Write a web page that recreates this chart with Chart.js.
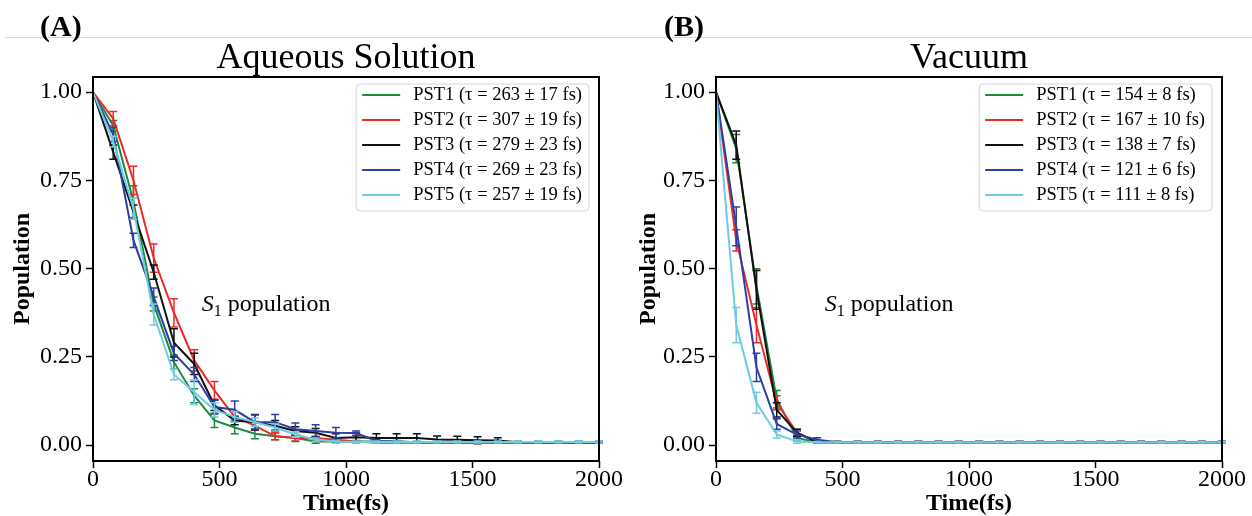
<!DOCTYPE html>
<html>
<head>
<meta charset="utf-8">
<title>S1 population decay</title>
<script src="https://cdn.jsdelivr.net/npm/chart.js@4.4.1/dist/chart.umd.min.js"></script>
<style>
    html, body { margin: 0; padding: 0; background: #fff; }
    #page {
        position: relative;
        width: 1252px;
        height: 516px;
        overflow: hidden;
        font-family: "Liberation Serif", "Times New Roman", serif;
    }
    .rule { position: absolute; left: 5px; right: 0; top: 37px; height: 1px; background: #d6d6d6; }
    .panel-tag { position: absolute; top: 11px; font-size: 30px; line-height: 30px; font-weight: bold; color: #000; }
    .panel { position: absolute; top: 0; width: 626px; height: 516px; }
</style>
</head>
<body>
<div id="page">
    <div class="rule"></div>
    <div class="panel" style="left:0"><canvas id="chart-aqueous" width="626" height="516"></canvas></div>
    <div class="panel" style="left:626px"><canvas id="chart-vacuum" width="626" height="516"></canvas></div>
    <div class="panel-tag" style="left:40px">(A)</div>
    <div class="panel-tag" style="left:664px">(B)</div>
</div>
<script>
// Time axis (fs), one point every 80 fs
const TIME_FS = [0, 80, 160, 240, 320, 400, 480, 560, 640, 720, 800, 880, 960,
    1040, 1120, 1200, 1280, 1360, 1440, 1520, 1600, 1680, 1760, 1840, 1920, 2000];

const X_TICKS = [0, 500, 1000, 1500, 2000];
const Y_TICKS = [0, 0.25, 0.5, 0.75, 1.0];

const SERIES_COLORS = ['#1e8a3c', '#ec2a2a', '#111111', '#2c3fa2', '#6ecbe2'];

// (A) aqueous solution
const AQ_LABELS = [
    'PST1 (\u03c4 = 263 \u00b1 17 fs)',
    'PST2 (\u03c4 = 307 \u00b1 19 fs)',
    'PST3 (\u03c4 = 279 \u00b1 23 fs)',
    'PST4 (\u03c4 = 269 \u00b1 23 fs)',
    'PST5 (\u03c4 = 257 \u00b1 19 fs)'
];
const AQ_PST1 = [1.00, 0.905, 0.69, 0.40, 0.235, 0.14, 0.07, 0.05, 0.032, 0.025, 0.02, 0.01, 0.01,
    0.01, 0.01, 0.01, 0.008, 0.008, 0.008, 0.008, 0.008, 0.008, 0.008, 0.008, 0.008, 0.008];
const AQ_PST2 = [1.00, 0.925, 0.75, 0.53, 0.375, 0.24, 0.155, 0.08, 0.055, 0.025, 0.02, 0.02, 0.015,
    0.01, 0.007, 0.007, 0.007, 0.007, 0.007, 0.007, 0.007, 0.007, 0.007, 0.007, 0.007, 0.007];
const AQ_PST3 = [1.00, 0.83, 0.66, 0.49, 0.29, 0.23, 0.113, 0.07, 0.065, 0.055, 0.04, 0.035, 0.02,
    0.022, 0.02, 0.02, 0.02, 0.016, 0.015, 0.014, 0.013, 0.008, 0.008, 0.008, 0.008, 0.008];
const AQ_PST4 = [1.00, 0.88, 0.58, 0.42, 0.26, 0.20, 0.108, 0.10, 0.065, 0.065, 0.045, 0.04, 0.035,
    0.034, 0.012, 0.01, 0.008, 0.008, 0.008, 0.008, 0.008, 0.008, 0.008, 0.008, 0.008, 0.008];
const AQ_PST5 = [1.00, 0.86, 0.67, 0.37, 0.20, 0.15, 0.10, 0.08, 0.065, 0.05, 0.03, 0.015, 0.01,
    0.009, 0.009, 0.009, 0.009, 0.009, 0.009, 0.009, 0.009, 0.009, 0.009, 0.009, 0.009, 0.009];

// error bar half-widths
const AQ_ERR1 = [0, 0.015, 0.045, 0.02, 0.02, 0.02, 0.02, 0.018, 0.014, 0.01, 0.01, 0.005, 0.003,
    0.002, 0.002, 0.002, 0.002, 0.002, 0.002, 0.002, 0.002, 0.002, 0.002, 0.002, 0.002, 0.002];
const AQ_ERR2 = [0, 0.02, 0.04, 0.04, 0.04, 0.03, 0.025, 0.015, 0.012, 0.01, 0.008, 0.005, 0.004,
    0.003, 0.002, 0.002, 0.002, 0.002, 0.002, 0.002, 0.002, 0.002, 0.002, 0.002, 0.002, 0.002];
const AQ_ERR3 = [0, 0.02, 0.02, 0.02, 0.04, 0.03, 0.015, 0.012, 0.022, 0.015, 0.012, 0.012, 0.012,
    0.012, 0.012, 0.012, 0.012, 0.01, 0.01, 0.01, 0.008, 0.002, 0.002, 0.002, 0.002, 0.002];
const AQ_ERR4 = [0, 0.02, 0.02, 0.025, 0.02, 0.02, 0.02, 0.025, 0.02, 0.022, 0.018, 0.018, 0.015,
    0.006, 0.004, 0.003, 0.002, 0.002, 0.002, 0.002, 0.002, 0.002, 0.002, 0.002, 0.002, 0.002];
const AQ_ERR5 = [0, 0.015, 0.03, 0.03, 0.015, 0.035, 0.02, 0.015, 0.012, 0.01, 0.008, 0.005, 0.004,
    0.003, 0.003, 0.003, 0.003, 0.003, 0.003, 0.003, 0.003, 0.003, 0.003, 0.003, 0.003, 0.003];

// (B) vacuum
const VAC_LABELS = [
    'PST1 (\u03c4 = 154 \u00b1 8 fs)',
    'PST2 (\u03c4 = 167 \u00b1 10 fs)',
    'PST3 (\u03c4 = 138 \u00b1 7 fs)',
    'PST4 (\u03c4 = 121 \u00b1 6 fs)',
    'PST5 (\u03c4 = 111 \u00b1 8 fs)'
];
const VAC_PST1 = [1.00, 0.84, 0.45, 0.13, 0.02, 0.008, 0.008, 0.008, 0.008, 0.008, 0.008, 0.008, 0.008,
    0.008, 0.008, 0.008, 0.008, 0.008, 0.008, 0.008, 0.008, 0.008, 0.008, 0.008, 0.008, 0.008];
const VAC_PST2 = [1.00, 0.58, 0.34, 0.12, 0.035, 0.008, 0.008, 0.008, 0.008, 0.008, 0.008, 0.008, 0.008,
    0.008, 0.008, 0.008, 0.008, 0.008, 0.008, 0.008, 0.008, 0.008, 0.008, 0.008, 0.008, 0.008];
const VAC_PST3 = [1.00, 0.85, 0.44, 0.10, 0.035, 0.008, 0.008, 0.008, 0.008, 0.008, 0.008, 0.008, 0.008,
    0.008, 0.008, 0.008, 0.008, 0.008, 0.008, 0.008, 0.008, 0.008, 0.008, 0.008, 0.008, 0.008];
const VAC_PST4 = [1.00, 0.62, 0.22, 0.06, 0.03, 0.015, 0.008, 0.008, 0.008, 0.008, 0.008, 0.008, 0.008,
    0.008, 0.008, 0.008, 0.008, 0.008, 0.008, 0.008, 0.008, 0.008, 0.008, 0.008, 0.008, 0.008];
const VAC_PST5 = [1.00, 0.34, 0.12, 0.03, 0.01, 0.008, 0.008, 0.008, 0.008, 0.008, 0.008, 0.008, 0.008,
    0.008, 0.008, 0.008, 0.008, 0.008, 0.008, 0.008, 0.008, 0.008, 0.008, 0.008, 0.008, 0.008];

const VAC_ERR1 = [0, 0.04, 0.05, 0.025, 0.008, 0.002, 0.002, 0.002, 0.002, 0.002, 0.002, 0.002, 0.002,
    0.002, 0.002, 0.002, 0.002, 0.002, 0.002, 0.002, 0.002, 0.002, 0.002, 0.002, 0.002, 0.002];
const VAC_ERR2 = [0, 0.03, 0.05, 0.02, 0.01, 0.002, 0.002, 0.002, 0.002, 0.002, 0.002, 0.002, 0.002,
    0.002, 0.002, 0.002, 0.002, 0.002, 0.002, 0.002, 0.002, 0.002, 0.002, 0.002, 0.002, 0.002];
const VAC_ERR3 = [0, 0.04, 0.055, 0.02, 0.01, 0.002, 0.002, 0.002, 0.002, 0.002, 0.002, 0.002, 0.002,
    0.002, 0.002, 0.002, 0.002, 0.002, 0.002, 0.002, 0.002, 0.002, 0.002, 0.002, 0.002, 0.002];
const VAC_ERR4 = [0, 0.055, 0.04, 0.015, 0.01, 0.006, 0.002, 0.002, 0.002, 0.002, 0.002, 0.002, 0.002,
    0.002, 0.002, 0.002, 0.002, 0.002, 0.002, 0.002, 0.002, 0.002, 0.002, 0.002, 0.002, 0.002];
const VAC_ERR5 = [0, 0.05, 0.03, 0.01, 0.005, 0.002, 0.002, 0.002, 0.002, 0.002, 0.002, 0.002, 0.002,
    0.002, 0.002, 0.002, 0.002, 0.002, 0.002, 0.002, 0.002, 0.002, 0.002, 0.002, 0.002, 0.002];

// where the "S1 population" note sits, in data units
const NOTE_POS = { x: 430, y: 0.38 };

const SERIF = '"Liberation Serif", "Times New Roman", serif';
Chart.defaults.font.family = SERIF;
Chart.defaults.color = '#000';

/**
 * Vertical error bars with caps, drawn right after each line
 */
const errorBarPlugin = {
    id: 'errorBars',
    afterDatasetDraw(chart, args) {
        const ds = chart.data.datasets[args.index];
        if (!ds.errors) return;
        const { ctx, scales: { x, y } } = chart;
        ctx.save();
        ctx.strokeStyle = ds.borderColor;
        ctx.lineWidth = 1.5;
        ds.data.forEach((pt, i) => {
            const err = ds.errors[i];
            if (!err) return;
            const px = x.getPixelForValue(pt.x);
            const top = y.getPixelForValue(pt.y + err);
            const bot = y.getPixelForValue(pt.y - err);
            ctx.beginPath();
            ctx.moveTo(px, top); ctx.lineTo(px, bot);
            ctx.moveTo(px - 4, top); ctx.lineTo(px + 4, top);
            ctx.moveTo(px - 4, bot); ctx.lineTo(px + 4, bot);
            ctx.stroke();
        });
        ctx.restore();
    }
};

/**
 * Frame, title, legend box and the S1 note
 */
function decorPlugin(title, labels) {
    return {
        id: 'panelDecor',
        afterDraw(chart) {
            const { ctx, chartArea: area, scales: { x, y } } = chart;
            ctx.save();

            // full box frame
            ctx.strokeStyle = '#000';
            ctx.lineWidth = 2;
            ctx.strokeRect(area.left, area.top, area.right - area.left, area.bottom - area.top);

            // title
            ctx.fillStyle = '#000';
            ctx.font = '36px ' + SERIF;
            ctx.textAlign = 'center';
            ctx.textBaseline = 'alphabetic';
            ctx.fillText(title, (area.left + area.right) / 2, 68);

            // S1 population note
            const nx = x.getPixelForValue(NOTE_POS.x);
            const ny = y.getPixelForValue(NOTE_POS.y);
            ctx.textAlign = 'left';
            ctx.font = 'italic 24px ' + SERIF;
            ctx.fillText('S', nx, ny);
            let cx = nx + ctx.measureText('S').width;
            ctx.font = '16px ' + SERIF;
            ctx.fillText('1', cx, ny + 5);
            cx += ctx.measureText('1').width;
            ctx.font = '24px ' + SERIF;
            ctx.fillText(' population', cx, ny);

            // legend
            ctx.font = '18.5px ' + SERIF;
            const textW = Math.max(...labels.map(l => ctx.measureText(l).width));
            const lineLen = 38;
            const boxW = 6 + lineLen + 13 + textW + 7;
            const rowH = 25;
            const boxH = 11 + rowH * (labels.length - 1) + 16;
            const right = area.right - 10;
            const left = right - boxW;
            const top = area.top + 7;
            ctx.beginPath();
            ctx.roundRect(left, top, boxW, boxH, 4);
            ctx.fillStyle = 'rgba(255,255,255,0.85)';
            ctx.fill();
            ctx.strokeStyle = '#d4d4d4';
            ctx.lineWidth = 1;
            ctx.stroke();
            ctx.textBaseline = 'middle';
            labels.forEach((label, i) => {
                const rowY = top + 11 + i * rowH;
                ctx.strokeStyle = SERIES_COLORS[i];
                ctx.lineWidth = 2;
                ctx.beginPath();
                ctx.moveTo(left + 6, rowY);
                ctx.lineTo(left + 6 + lineLen, rowY);
                ctx.stroke();
                ctx.fillStyle = '#000';
                ctx.fillText(label, left + 6 + lineLen + 13, rowY);
            });
            ctx.restore();
        }
    };
}

/**
 * Build one panel
 */
function createPanel(canvasId, cfg) {
    const ctx = document.getElementById(canvasId).getContext('2d');
    const datasets = cfg.series.map((values, i) => ({
        label: cfg.labels[i],
        data: TIME_FS.map((t, j) => ({ x: t, y: values[j] })),
        errors: cfg.errors[i],
        borderColor: SERIES_COLORS[i],
        backgroundColor: SERIES_COLORS[i],
        borderWidth: 2,
        pointRadius: 0,
        tension: 0,
        fill: false,
        order: cfg.series.length - i
    }));

    return new Chart(ctx, {
        type: 'line',
        data: { datasets },
        plugins: [errorBarPlugin, decorPlugin(cfg.title, cfg.labels)],
        options: {
            responsive: false,
            animation: false,
            devicePixelRatio: 1,
            layout: { padding: { left: 0, right: 626 - cfg.plotRight, top: 77, bottom: 0 } },
            plugins: { legend: { display: false }, tooltip: { enabled: false } },
            scales: {
                x: {
                    type: 'linear',
                    min: 0,
                    max: 2000,
                    afterBuildTicks: scale => { scale.ticks = X_TICKS.map(v => ({ value: v })); },
                    afterFit: scale => { scale.height = 55; },
                    ticks: { font: { size: 24, lineHeight: 1 }, padding: 0, maxRotation: 0, color: '#000', callback: v => String(v) },
                    grid: { display: true, drawOnChartArea: false, drawTicks: true, tickLength: 7, tickColor: '#000', tickWidth: 1.5 },
                    border: { display: false },
                    title: { display: true, text: 'Time(fs)', font: { size: 24, weight: 'bold', lineHeight: 1 }, padding: 0, color: '#000' }
                },
                y: {
                    type: 'linear',
                    min: -0.045,
                    max: 1.043,
                    afterBuildTicks: scale => { scale.ticks = Y_TICKS.map(v => ({ value: v })); },
                    afterFit: scale => { scale.width = cfg.plotLeft; },
                    ticks: { font: { size: 24 }, padding: 4, color: '#000', callback: v => Number(v).toFixed(2) },
                    grid: { display: true, drawOnChartArea: false, drawTicks: true, tickLength: 7, tickColor: '#000', tickWidth: 1.5 },
                    border: { display: false },
                    title: { display: true, text: 'Population', font: { size: 24, weight: 'bold' }, padding: { top: 8, bottom: 0 }, color: '#000' }
                }
            }
        }
    });
}

createPanel('chart-aqueous', {
    title: 'Aqueous Solution',
    labels: AQ_LABELS,
    series: [AQ_PST1, AQ_PST2, AQ_PST3, AQ_PST4, AQ_PST5],
    errors: [AQ_ERR1, AQ_ERR2, AQ_ERR3, AQ_ERR4, AQ_ERR5],
    plotLeft: 93,
    plotRight: 599
});

createPanel('chart-vacuum', {
    title: 'Vacuum',
    labels: VAC_LABELS,
    series: [VAC_PST1, VAC_PST2, VAC_PST3, VAC_PST4, VAC_PST5],
    errors: [VAC_ERR1, VAC_ERR2, VAC_ERR3, VAC_ERR4, VAC_ERR5],
    plotLeft: 90,
    plotRight: 596
});
</script>
</body>
</html>
